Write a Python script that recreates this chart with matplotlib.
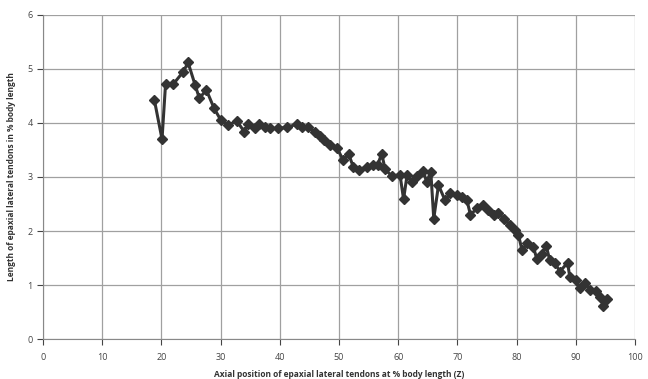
import matplotlib.pyplot as plt

# Axial position (% body length) and tendon length (% body length)
axial_pos = [18.8, 20.1, 20.7, 22.0, 23.7, 24.5, 25.7, 26.4, 27.6, 28.9,
             30.0, 31.3, 32.7, 34.0, 34.7, 35.8, 36.4, 37.5, 38.3, 39.7,
             41.2, 42.9, 43.7, 44.8, 45.9, 46.8, 47.4, 48.5, 49.7, 50.7,
             51.6, 52.4, 53.3, 54.7, 55.8, 56.5, 57.2, 57.8, 58.9, 60.3,
             60.9, 61.5, 62.3, 63.1, 64.2, 64.8, 65.5, 66.0, 66.8, 67.9,
             68.8, 69.9, 70.7, 71.6, 72.2, 73.3, 74.4, 75.2, 76.1, 76.9,
             77.8, 78.9, 79.7, 80.3, 80.9, 81.8, 82.8, 83.4, 84.2, 85.0,
             85.6, 86.5, 87.3, 88.6, 89.0, 90.0, 90.7, 91.6, 92.4, 93.4,
             94.1, 94.6, 95.2]
tendon_len = [4.43, 3.70, 4.73, 4.72, 4.95, 5.12, 4.70, 4.46, 4.61, 4.27,
              4.06, 3.96, 4.04, 3.84, 3.98, 3.91, 3.99, 3.93, 3.90, 3.90,
              3.92, 3.98, 3.93, 3.92, 3.84, 3.75, 3.69, 3.59, 3.53, 3.31,
              3.43, 3.19, 3.13, 3.19, 3.22, 3.22, 3.43, 3.14, 3.02, 3.04,
              2.59, 3.04, 2.91, 3.02, 3.12, 2.91, 3.10, 2.23, 2.85, 2.57,
              2.70, 2.67, 2.63, 2.57, 2.30, 2.42, 2.48, 2.39, 2.30, 2.33,
              2.23, 2.11, 2.02, 1.93, 1.65, 1.77, 1.71, 1.49, 1.58, 1.72,
              1.46, 1.40, 1.25, 1.41, 1.14, 1.09, 0.94, 1.03, 0.91, 0.89,
              0.78, 0.61, 0.75]

xticks = list(range(0, 101, 10))
yticks = list(range(0, 7))

plt.rcParams['font.family'] = ['Open Sans', 'DejaVu Sans']

fig = plt.figure(figsize=(6.48, 3.79), dpi=100)
ax = fig.add_axes([0.0664, 0.1055, 0.9136, 0.855])

ax.plot(axial_pos, tendon_len, color='#333333', linewidth=2.2,
        marker='D', markersize=5, markerfacecolor='#333333',
        markeredgecolor='#333333', zorder=3)

ax.set_xlim(0, 100)
ax.set_ylim(0, 6)
ax.set_xticks(xticks)
ax.set_yticks(yticks)
ax.grid(True, color='#a0a0a0', linewidth=0.9)
ax.set_axisbelow(True)

for side in ['top', 'right']:
    ax.spines[side].set_visible(False)
for side in ['left', 'bottom']:
    ax.spines[side].set_color('#888888')

ax.tick_params(axis='both', labelsize=6.5, colors='#444444', length=4,
               direction='out', width=0.8)
ax.tick_params(axis='x', pad=6)

ax.set_xlabel('Axial position of epaxial lateral tendons at % body length (Z)',
              fontsize=6, fontweight='bold', color='#333333', labelpad=6)
ax.set_ylabel('Length of epaxial lateral tendons in % body length',
              fontsize=6, fontweight='bold', color='#333333', labelpad=8)

fig.savefig('out.png', dpi=100)
